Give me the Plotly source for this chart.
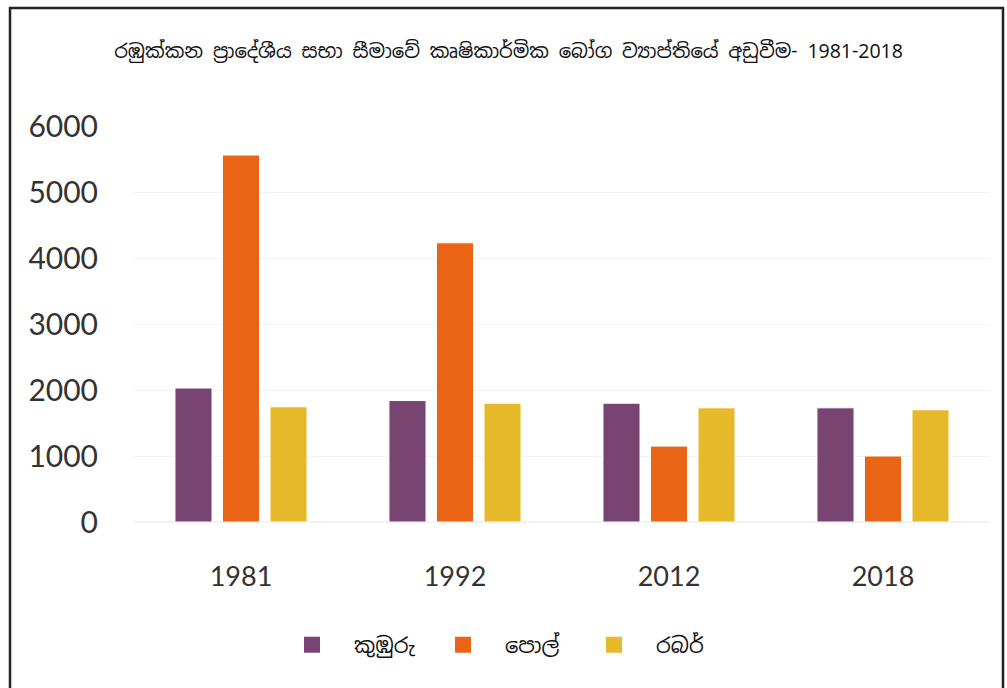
import plotly.graph_objects as go

years = ["1981", "1992", "2012", "2018"]
series_names = ["කුඹුරු", "පොල්", "රබර්"]
kumburu = [2030, 1840, 1800, 1730]
pol = [5560, 4230, 1150, 1000]
rabar = [1745, 1800, 1730, 1700]
colors = ["#784573", "#E96414", "#E6B92A"]
title_text = "රඹුක්කන ප්‍රාදේශීය සභා සීමාවේ කෘෂිකාර්මික බෝග ව්‍යාප්තියේ අඩුවීම- 1981-2018"

fig = go.Figure()
for name, vals, c in zip(series_names, [kumburu, pol, rabar], colors):
    fig.add_trace(go.Bar(x=years, y=vals, name=name, marker_color=c,
                         marker_line=dict(color="white", width=1), showlegend=False))
# legend entries with larger square symbols
for name, c in zip(series_names, colors):
    fig.add_trace(go.Scatter(x=[None], y=[None], mode="markers", name=name,
                             marker=dict(symbol="square", size=17, color=c)))

font_family = "Noto Sans Sinhala, Nirmala UI, Iskoola Pota, Open Sans, DejaVu Sans, sans-serif"

fig.update_layout(
    width=1007, height=688,
    paper_bgcolor="white", plot_bgcolor="white",
    margin=dict(l=134, r=17, t=126, b=166, autoexpand=False),
    barmode="group", bargap=0.334, bargroupgap=0.22,
    font=dict(family=font_family, color="#222222"),
    title=dict(text=title_text, x=0.505, xanchor="center", y=0.925, yanchor="middle",
               font=dict(size=19.5, color="#111111")),
    xaxis=dict(showgrid=False, showline=False, ticks="outside", ticklen=31,
               tickcolor="rgba(0,0,0,0)",
               tickfont=dict(family="Lato, sans-serif", size=27, color="#333333")),
    yaxis=dict(range=[0, 6000], dtick=1000, showgrid=True, gridcolor="#f2f2f2",
               zeroline=True, zerolinecolor="#f2f2f2", showline=False,
               ticks="outside", ticklen=29, tickcolor="rgba(0,0,0,0)",
               tickfont=dict(family="Lato, sans-serif", size=30, color="#333333")),
    legend=dict(orientation="h", x=(270 - 134) / 856, xanchor="left", y=-0.311, yanchor="middle",
                font=dict(size=21, color="#111111"), itemwidth=74, entrywidth=62,
                traceorder="normal"),
    showlegend=True,
)

fig.add_shape(type="rect", xref="paper", yref="paper",
              x0=(10 - 134) / 856, x1=(1003 - 134) / 856,
              y0=(522 - 692) / 396, y1=(522 - 8) / 396,
              line=dict(color="#222222", width=2.5), fillcolor="rgba(0,0,0,0)")

fig.write_html("out.html", post_script="document.body.style.margin='0';",
               config={"displayModeBar": False})
